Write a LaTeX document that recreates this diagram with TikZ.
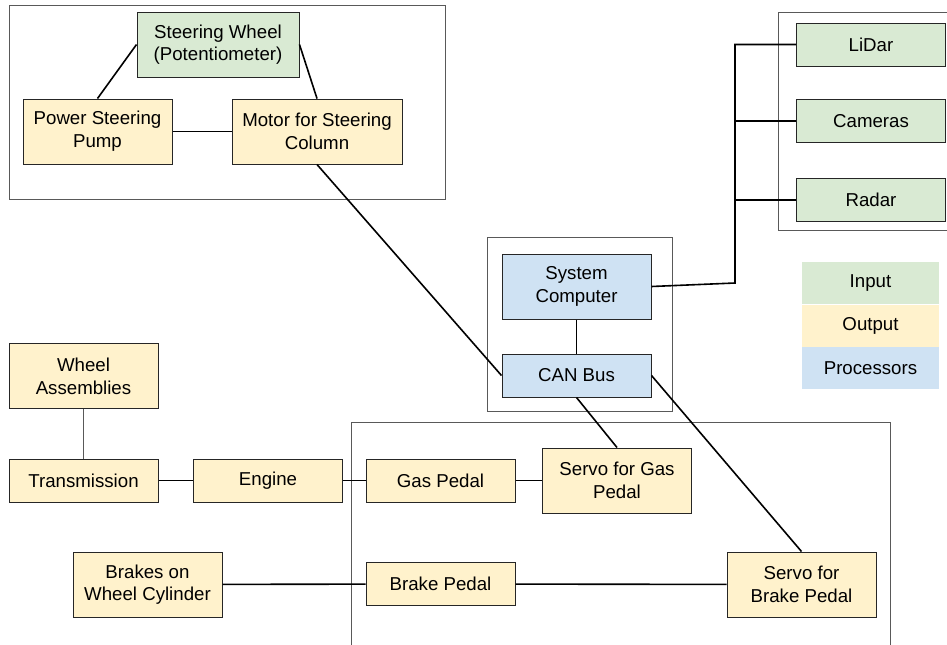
\documentclass[tikz,border=0pt]{standalone}
\usepackage{fontspec}
\setmainfont{Liberation Sans}
\usetikzlibrary{
    positioning,
    calc
}
\definecolor{inGreen}{HTML}{D9EAD3}
\definecolor{outYellow}{HTML}{FFF2CC}
\definecolor{procBlue}{HTML}{CFE2F3}
\tikzset{
    % --- Base block (one part of the car) ---
    block/.style = {
        rectangle, draw=black!85, line width=0.75pt,
        minimum width=111.75pt, minimum height=32.25pt,
        inner sep=0pt, align=center,
        font=\fontsize{14}{17}\selectfont
    },
    % --- Two-line block ---
    tall/.style = {
        minimum height=48.75pt
    },
    % --- Colour classes ---
    in_node/.style = {block, fill=inGreen},
    out_node/.style = {block, fill=outYellow},
    proc_node/.style = {block, fill=procBlue},
    % --- Legend cell (no border) ---
    key/.style = {
        rectangle, minimum width=102.75pt, minimum height=31.5pt,
        inner sep=0pt, font=\fontsize{14}{17}\selectfont
    },
    % --- Subsystem enclosure ---
    frame/.style = {
        draw=black!65, line width=0.75pt
    },
    % --- Wiring between blocks ---
    link/.style = {
        draw=black, line width=1.2pt
    }
}

\begin{document}
\begin{tikzpicture}[x=0.75pt, y=-0.75pt]

\useasboundingbox (0,0) rectangle (947,644);

% ---------------------------------------------------------
% 1. Enclosures
% ---------------------------------------------------------
\draw[frame] (9,5) rectangle (445,199);
\draw[frame] (778,12) rectangle (952,230);
\draw[frame] (487,237) rectangle (672,411);
\draw[frame] (351,422) rectangle (890,652);

% ---------------------------------------------------------
% 2. Steering group
% ---------------------------------------------------------
\node[in_node, tall, minimum width=121.5pt] (SteerWheel) at (218,44.5) {Steering Wheel\\(Potentiometer)};
\node[out_node, tall] (PumpPS) at (97.5,131.5) {Power Steering\\Pump};
\node[out_node, tall, minimum width=127.5pt] (MotorSC) at (317,131.5) {Motor for Steering\\Column};

\draw[link] (SteerWheel.west) -- (PumpPS.north);
\draw[link] (SteerWheel.east) -- (MotorSC.north);
\draw[link] (PumpPS) -- (MotorSC);

% ---------------------------------------------------------
% 3. Sensors
% ---------------------------------------------------------
\node[in_node] (Lidar) at (871,44.5) {LiDar};
\node[in_node] (Cameras) at (871,121) {Cameras};
\node[in_node] (Radar) at (871,200) {Radar};

% ---------------------------------------------------------
% 4. Processors
% ---------------------------------------------------------
\node[proc_node, tall] (SysComp) at (576.5,286.5) {System\\Computer};
\node[proc_node] (CanBus) at (576.5,375.5) {CAN Bus};

\draw[link] (SysComp) -- (CanBus);

% Sensor bus
\coordinate (BusBot) at (735,283);
\coordinate (BusTop) at (735,44.5);
\draw[link] (SysComp.east) -- (BusBot) -- (BusTop) -- (Lidar.west);
\draw[link] (Cameras.west) -- (Cameras.west -| BusTop);
\draw[link] (Radar.west) -- (Radar.west -| BusTop);

% ---------------------------------------------------------
% 5. Legend
% ---------------------------------------------------------
\node[key, fill=inGreen] (LegIn) at (870.5,283) {Input};
\node[key, fill=outYellow, below=0pt of LegIn] (LegOut) {Output};
\node[key, fill=procBlue, below=0pt of LegOut] (LegProc) {Processors};

% ---------------------------------------------------------
% 6. Drive train and pedals
% ---------------------------------------------------------
\node[out_node, tall] (WheelAsm) at (83.5,376) {Wheel\\Assemblies};
\node[out_node] (Trans) at (83.5,480.5) {Transmission};
\node[out_node] (Engine) at (268,480.5) {Engine};
\node[out_node] (GasPedal) at (440.5,480.5) {Gas Pedal};
\node[out_node, tall] (ServoGas) at (617,480.5) {Servo for Gas\\Pedal};
\node[out_node, tall] (BrakesWC) at (147.5,584.5) {Brakes on\\Wheel Cylinder};
\node[out_node] (BrakePedal) at (440.5,584) {Brake Pedal};
\node[out_node, tall] (ServoBrake) at (801.5,584.5) {Servo for\\Brake Pedal};

\draw[draw=black!65, line width=0.75pt] (WheelAsm) -- (Trans);
\draw[link] (Trans) -- (Engine);
\draw[link] (Engine) -- (GasPedal);
\draw[link] (GasPedal) -- (ServoGas);
\draw[link] (BrakesWC) -- (BrakePedal);
\draw[link] (BrakePedal) -- (ServoBrake);

% ---------------------------------------------------------
% 7. Control wiring from the CAN bus
% ---------------------------------------------------------
\draw[link] (MotorSC.south) -- (CanBus.west);
\draw[link] (CanBus.south) -- (ServoGas.north);
\draw[link] (CanBus.east) -- (ServoBrake.north);

\end{tikzpicture}
\end{document}
